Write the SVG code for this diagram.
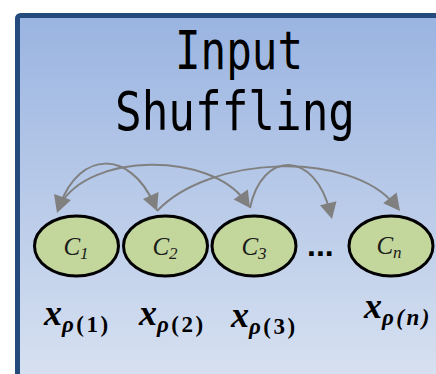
<svg xmlns="http://www.w3.org/2000/svg" width="436" height="374" viewBox="0 0 436 374">
  <defs>
    <linearGradient id="panelFill" x1="0" y1="15" x2="0" y2="374" gradientUnits="userSpaceOnUse">
      <stop offset="0" stop-color="#9ab4e1"/>
      <stop offset="1" stop-color="#d6e0f0"/>
    </linearGradient>
  </defs>
  <style>
    .title { font-family: "DejaVu Sans Mono", "Liberation Mono", monospace; font-size: 53px; fill: #000; }
    .cell ellipse { fill: #c3d69b; stroke: #000; stroke-width: 3; }
    .cell text { font-family: "Liberation Serif", serif; font-style: italic; font-size: 25px; fill: #1a1a1a; text-anchor: middle; }
    .cell .sub { font-size: 17px; }
    .links path { fill: none; stroke: #808080; stroke-width: 2; }
    .links polygon { fill: #808080; }
    .lbl { font-family: "Liberation Serif", serif; font-style: italic; font-weight: bold; font-size: 36px; fill: #000; }
    .lbl .sub { font-size: 23px; letter-spacing: 2.5px; }
    .lbl .up { font-style: normal; }
    .dots { font-family: "Liberation Sans", sans-serif; font-weight: bold; font-size: 32px; fill: #000; }
  </style>

  <!-- panel -->
  <rect x="17.5" y="15.5" width="440" height="380" rx="3" fill="url(#panelFill)" stroke="#254a7c" stroke-width="5"/>

  <!-- heading -->
  <text class="title" x="175" y="69" textLength="128" lengthAdjust="spacingAndGlyphs">Input</text>
  <text class="title" x="115" y="130" textLength="240" lengthAdjust="spacingAndGlyphs">Shuffling</text>

  <!-- permutation arcs; heads drawn along each end tangent -->
  <g id="connectors" class="links">
    <path d="M60,205 C80,150 130,150 154,204"/>
    <path d="M60,205 C90,152 210,152 245,201"/>
    <path d="M157,211 C210,155 350,150 395,205"/>
    <path d="M250,208 C262,150 315,150 330,212"/>
    <polygon points="57,213 71,200 54,194"/>
    <polygon points="157,211 158.5,192 143,199"/>
    <polygon points="250,208 247.8,189.5 233.6,199.6"/>
    <polygon points="400,211 396.6,192.4 383.2,203.3"/>
    <polygon points="332,219 336.5,201.3 320,205.3"/>
  </g>

  <!-- cells -->
  <g id="c1" class="cell">
    <ellipse cx="76.5" cy="246" rx="42" ry="30"/>
    <text x="76" y="255">C<tspan class="sub" dy="4">1</tspan></text>
  </g>
  <g id="c2" class="cell">
    <ellipse cx="165.5" cy="246" rx="42" ry="30"/>
    <text x="165" y="255">C<tspan class="sub" dy="4">2</tspan></text>
  </g>
  <g id="c3" class="cell">
    <ellipse cx="254" cy="246" rx="42" ry="30"/>
    <text x="254" y="255">C<tspan class="sub" dy="4">3</tspan></text>
  </g>
  <g id="ellipsis">
    <text class="dots" x="307" y="256">...</text>
  </g>
  <g id="cn" class="cell">
    <ellipse cx="391" cy="246" rx="42" ry="30"/>
    <text x="389" y="254">C<tspan class="sub" dy="4">n</tspan></text>
  </g>

  <!-- input labels -->
  <g id="label1"><text class="lbl" x="44" y="325">x<tspan class="sub" dy="7">ρ<tspan class="up">(1)</tspan></tspan></text></g>
  <g id="label2"><text class="lbl" x="139" y="325">x<tspan class="sub" dy="7">ρ<tspan class="up">(2)</tspan></tspan></text></g>
  <g id="label3"><text class="lbl" x="231" y="327">x<tspan class="sub" dy="7">ρ<tspan class="up">(3)</tspan></tspan></text></g>
  <g id="labeln"><text class="lbl" x="364" y="318">x<tspan class="sub" dy="7">ρ(n)</tspan></text></g>
</svg>
